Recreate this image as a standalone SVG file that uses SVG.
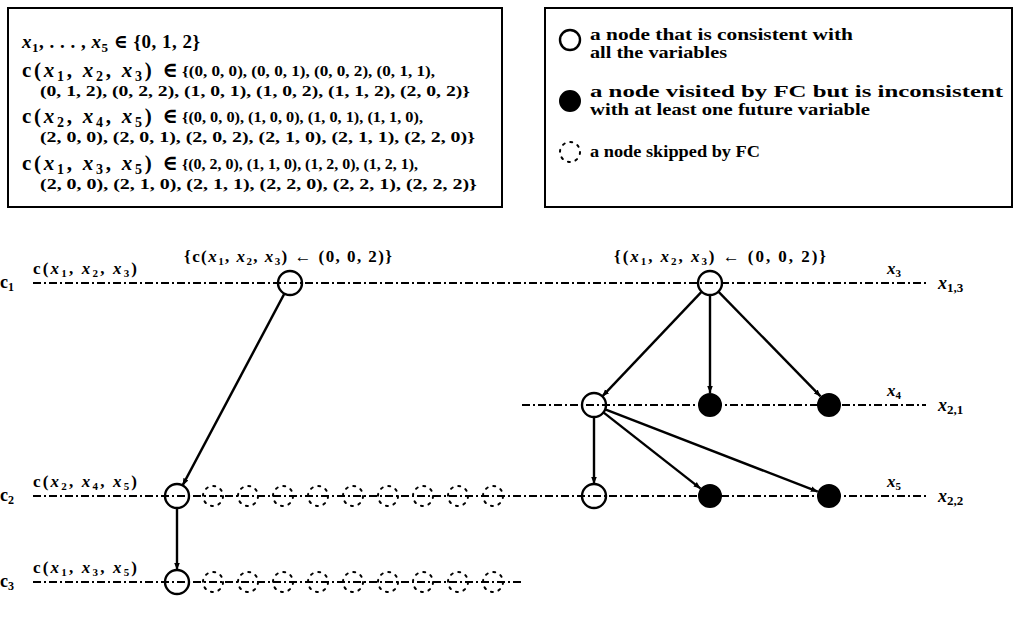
<svg xmlns="http://www.w3.org/2000/svg" width="1021" height="620" viewBox="0 0 1021 620">
<style>
text{font-family:"Liberation Serif","DejaVu Serif",serif;fill:#000;font-weight:bold}
.big{font-size:19px}
.head{font-size:21px}
.set{font-size:14px}
.leg{font-size:17px}
.lbl{font-size:17px}
.cl{font-size:18px}
.i{font-style:italic}
.box{fill:#fff;stroke:#000;stroke-width:2}
.dd{stroke:#000;stroke-width:1.8;stroke-dasharray:8 3 2 3;fill:none}
.edge{stroke:#000;stroke-width:2.4;fill:none;marker-end:url(#arr)}
.open{fill:none;stroke:#000;stroke-width:2.4}
.full{fill:#000;stroke:#000;stroke-width:2}
.skip{fill:none;stroke:#000;stroke-width:2;stroke-dasharray:2 5.85;stroke-linecap:round}
</style>
<defs>
<marker id="arr" viewBox="0 0 10 10" refX="10" refY="5" markerWidth="7" markerHeight="7" markerUnits="userSpaceOnUse" orient="auto">
<path d="M0,1 L10,5 L0,9 z" fill="#000"/>
</marker>
</defs>
<rect width="1021" height="620" fill="#fff"/>

<g id="domain-box">
<rect class="box" x="8" y="8" width="494" height="199"/>
<text class="big" x="22" y="48" textLength="178" lengthAdjust="spacing"><tspan class="i">x</tspan><tspan font-size="13" dy="4">1</tspan><tspan dy="-4">, . . . , </tspan><tspan class="i">x</tspan><tspan font-size="13" dy="4">5</tspan><tspan dy="-4"> ∈ {0, 1, 2}</tspan></text>
<text class="head" x="22" y="77" textLength="156" lengthAdjust="spacing">c(<tspan class="i">x</tspan><tspan font-size="14" dy="4">1</tspan><tspan dy="-4">, </tspan><tspan class="i">x</tspan><tspan font-size="14" dy="4">2</tspan><tspan dy="-4">, </tspan><tspan class="i">x</tspan><tspan font-size="14" dy="4">3</tspan><tspan dy="-4">) ∈</tspan></text>
<text class="set" x="182" y="76" textLength="253" lengthAdjust="spacingAndGlyphs">{(0, 0, 0), (0, 0, 1), (0, 0, 2), (0, 1, 1),</text>
<text class="set" x="40" y="96" textLength="430" lengthAdjust="spacingAndGlyphs">(0, 1, 2), (0, 2, 2), (1, 0, 1), (1, 0, 2), (1, 1, 2), (2, 0, 2)}</text>
<text class="head" x="22" y="123" textLength="156" lengthAdjust="spacing">c(<tspan class="i">x</tspan><tspan font-size="14" dy="4">2</tspan><tspan dy="-4">, </tspan><tspan class="i">x</tspan><tspan font-size="14" dy="4">4</tspan><tspan dy="-4">, </tspan><tspan class="i">x</tspan><tspan font-size="14" dy="4">5</tspan><tspan dy="-4">) ∈</tspan></text>
<text class="set" x="182" y="122" textLength="241" lengthAdjust="spacingAndGlyphs">{(0, 0, 0), (1, 0, 0), (1, 0, 1), (1, 1, 0),</text>
<text class="set" x="40" y="142" textLength="435" lengthAdjust="spacingAndGlyphs">(2, 0, 0), (2, 0, 1), (2, 0, 2), (2, 1, 0), (2, 1, 1), (2, 2, 0)}</text>
<text class="head" x="22" y="170" textLength="156" lengthAdjust="spacing">c(<tspan class="i">x</tspan><tspan font-size="14" dy="4">1</tspan><tspan dy="-4">, </tspan><tspan class="i">x</tspan><tspan font-size="14" dy="4">3</tspan><tspan dy="-4">, </tspan><tspan class="i">x</tspan><tspan font-size="14" dy="4">5</tspan><tspan dy="-4">) ∈</tspan></text>
<text class="set" x="182" y="169" textLength="236" lengthAdjust="spacingAndGlyphs">{(0, 2, 0), (1, 1, 0), (1, 2, 0), (1, 2, 1),</text>
<text class="set" x="40" y="189" textLength="437" lengthAdjust="spacingAndGlyphs">(2, 0, 0), (2, 1, 0), (2, 1, 1), (2, 2, 0), (2, 2, 1), (2, 2, 2)}</text>
</g>

<g id="legend">
<rect class="box" x="545" y="8" width="467" height="199"/>
<circle class="open" cx="570" cy="40" r="10"/>
<text class="leg" x="590" y="40" textLength="263" lengthAdjust="spacingAndGlyphs">a node that is consistent with</text>
<text class="leg" x="590" y="58" textLength="137" lengthAdjust="spacingAndGlyphs">all the variables</text>
<circle class="full" cx="570" cy="101" r="10"/>
<text class="leg" x="590" y="97" textLength="413" lengthAdjust="spacingAndGlyphs">a node visited by FC but is inconsistent</text>
<text class="leg" x="590" y="115" textLength="280" lengthAdjust="spacingAndGlyphs">with at least one future variable</text>
<circle class="skip" cx="570" cy="152" r="10"/>
<text class="leg" x="590" y="157" textLength="170" lengthAdjust="spacingAndGlyphs">a node skipped by FC</text>
</g>

<g id="levels">
<line class="dd" x1="33" y1="283" x2="926" y2="283"/>
<line class="dd" x1="522" y1="405" x2="926" y2="405"/>
<line class="dd" x1="33" y1="496" x2="926" y2="496"/>
<line class="dd" x1="33" y1="582" x2="522" y2="582"/>
</g>

<g id="level-labels">
<text class="cl" x="0" y="288">c<tspan font-size="12" dy="3">1</tspan></text>
<text class="lbl" x="33" y="274" textLength="104" lengthAdjust="spacing">c(<tspan class="i">x</tspan><tspan font-size="11" dy="3">1</tspan><tspan dy="-3">, </tspan><tspan class="i">x</tspan><tspan font-size="11" dy="3">2</tspan><tspan dy="-3">, </tspan><tspan class="i">x</tspan><tspan font-size="11" dy="3">3</tspan><tspan dy="-3">)</tspan></text>
<text class="cl" x="0" y="501">c<tspan font-size="12" dy="3">2</tspan></text>
<text class="lbl" x="33" y="487" textLength="104" lengthAdjust="spacing">c(<tspan class="i">x</tspan><tspan font-size="11" dy="3">2</tspan><tspan dy="-3">, </tspan><tspan class="i">x</tspan><tspan font-size="11" dy="3">4</tspan><tspan dy="-3">, </tspan><tspan class="i">x</tspan><tspan font-size="11" dy="3">5</tspan><tspan dy="-3">)</tspan></text>
<text class="cl" x="0" y="587">c<tspan font-size="12" dy="3">3</tspan></text>
<text class="lbl" x="33" y="573" textLength="104" lengthAdjust="spacing">c(<tspan class="i">x</tspan><tspan font-size="11" dy="3">1</tspan><tspan dy="-3">, </tspan><tspan class="i">x</tspan><tspan font-size="11" dy="3">3</tspan><tspan dy="-3">, </tspan><tspan class="i">x</tspan><tspan font-size="11" dy="3">5</tspan><tspan dy="-3">)</tspan></text>
<text class="lbl" x="184" y="262" textLength="208" lengthAdjust="spacing">{c(<tspan class="i">x</tspan><tspan font-size="11" dy="3">1</tspan><tspan dy="-3">, </tspan><tspan class="i">x</tspan><tspan font-size="11" dy="3">2</tspan><tspan dy="-3">, </tspan><tspan class="i">x</tspan><tspan font-size="11" dy="3">3</tspan><tspan dy="-3">) ← (0, 0, 2)}</tspan></text>
<text class="lbl" x="614" y="262" textLength="212" lengthAdjust="spacing">{(<tspan class="i">x</tspan><tspan font-size="11" dy="3">1</tspan><tspan dy="-3">, </tspan><tspan class="i">x</tspan><tspan font-size="11" dy="3">2</tspan><tspan dy="-3">, </tspan><tspan class="i">x</tspan><tspan font-size="11" dy="3">3</tspan><tspan dy="-3">) ← (0, 0, 2)}</tspan></text>
<text class="lbl i" x="887" y="274">x<tspan font-size="11" dy="3" font-style="normal">3</tspan></text>
<text class="lbl i" x="887" y="396">x<tspan font-size="11" dy="3" font-style="normal">4</tspan></text>
<text class="lbl i" x="887" y="487">x<tspan font-size="11" dy="3" font-style="normal">5</tspan></text>
<text class="cl i" x="938" y="289">x<tspan font-size="13" dy="3" font-style="normal">1,3</tspan></text>
<text class="cl i" x="938" y="411">x<tspan font-size="13" dy="3" font-style="normal">2,1</tspan></text>
<text class="cl i" x="938" y="502">x<tspan font-size="13" dy="3" font-style="normal">2,2</tspan></text>
</g>

<g id="connectors">
<line class="edge" x1="284.4" y1="293.6" x2="182.6" y2="485.4"/>
<line class="edge" x1="177" y1="508" x2="177" y2="570"/>
<line class="edge" x1="701.7" y1="291.7" x2="602.3" y2="396.3"/>
<line class="edge" x1="710" y1="295" x2="710" y2="393"/>
<line class="edge" x1="718.4" y1="291.6" x2="820.6" y2="396.4"/>
<line class="edge" x1="594" y1="417" x2="594" y2="484"/>
<line class="edge" x1="603.4" y1="412.4" x2="700.6" y2="488.6"/>
<line class="edge" x1="605.2" y1="409.3" x2="817.8" y2="491.7"/>
</g>

<g id="n-c1"><circle class="open" cx="290" cy="283" r="12"/></g>
<g id="n-c2"><circle class="open" cx="177" cy="496" r="12"/></g>
<g id="n-c3"><circle class="open" cx="177" cy="582" r="12"/></g>
<g id="n-c2-skipped">
<circle class="skip" cx="213" cy="496" r="10"/><circle class="skip" cx="248" cy="496" r="10"/><circle class="skip" cx="283" cy="496" r="10"/><circle class="skip" cx="318" cy="496" r="10"/><circle class="skip" cx="353" cy="496" r="10"/><circle class="skip" cx="388" cy="496" r="10"/><circle class="skip" cx="423" cy="496" r="10"/><circle class="skip" cx="458" cy="496" r="10"/><circle class="skip" cx="493" cy="496" r="10"/>
</g>
<g id="n-c3-skipped">
<circle class="skip" cx="213" cy="582" r="10"/><circle class="skip" cx="248" cy="582" r="10"/><circle class="skip" cx="283" cy="582" r="10"/><circle class="skip" cx="318" cy="582" r="10"/><circle class="skip" cx="353" cy="582" r="10"/><circle class="skip" cx="388" cy="582" r="10"/><circle class="skip" cx="423" cy="582" r="10"/><circle class="skip" cx="458" cy="582" r="10"/><circle class="skip" cx="493" cy="582" r="10"/>
</g>
<g id="n-x13"><circle class="open" cx="710" cy="283" r="12"/></g>
<g id="n-x21-a"><circle class="open" cx="594" cy="405" r="12"/></g>
<g id="n-x21-b"><circle class="full" cx="710" cy="405" r="11"/></g>
<g id="n-x21-c"><circle class="full" cx="829" cy="405" r="11"/></g>
<g id="n-x22-a"><circle class="open" cx="594" cy="496" r="12"/></g>
<g id="n-x22-b"><circle class="full" cx="710" cy="496" r="11"/></g>
<g id="n-x22-c"><circle class="full" cx="829" cy="496" r="11"/></g>
</svg>
